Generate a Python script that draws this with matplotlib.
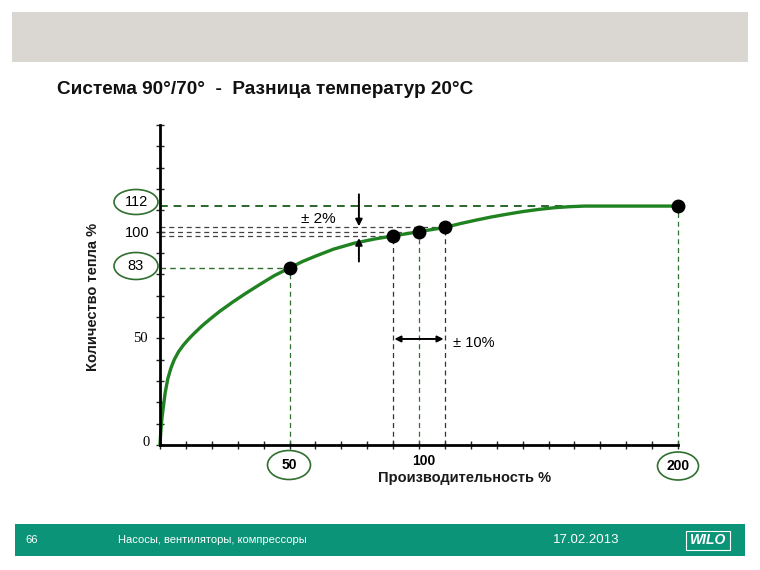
import matplotlib
matplotlib.use("Agg")
import matplotlib.pyplot as plt
from matplotlib.patches import Ellipse, Rectangle
import numpy as np

plt.rcParams['font.family'] = ['Liberation Sans', 'DejaVu Sans']

# ---- data ----
curve_x = [0, 0.3, 0.7, 1.3, 2.0, 3.0, 4.2, 5.5, 7.2, 9.0, 11, 13, 16, 19.3, 23, 28.3, 33,
           38.6, 44, 50, 55, 60, 67, 75, 83, 90, 100, 110, 116, 122, 128, 134, 140,
           146, 152, 158, 164, 170, 180, 190, 200]
curve_y = [0, 6, 12, 18, 24.5, 31, 36, 40, 43.8, 46.8, 49.6, 52.1, 55.6, 59, 62.6, 67.2, 71,
           75.3, 79.3, 83, 86, 88.5, 91.8, 94.6, 96.6, 98, 100, 102, 103.8, 105.4, 106.9,
           108.2, 109.4, 110.4, 111.2, 111.7, 112, 112, 112, 112, 112]
pts_x = [50, 90, 100, 110, 200]
pts_y = [83, 98, 100, 102, 112]
vline_colors = ['#2f6f2f', '#333333', '#2f6f2f', '#333333', '#2f6f2f']
title = "Система 90°/70°  -  Разница температур 20°C"
xlabel = "Производительность %"
ylabel = "Количество тепла %"
footer_page = "66"
footer_text = "Насосы, вентиляторы, компрессоры"
footer_date = "17.02.2013"

W, H = 760, 570
fig = plt.figure(figsize=(W / 100, H / 100), dpi=100)
fig.patch.set_facecolor('white')

def fx(x):
    return x / W

def fy(y):
    return 1 - y / H

# bands
fig.patches.append(Rectangle((fx(12), fy(62)), fx(748) - fx(12), fy(12) - fy(62),
                             transform=fig.transFigure, facecolor='#dad7d3', edgecolor='none'))
fig.patches.append(Rectangle((fx(15), fy(556)), fx(745) - fx(15), fy(524) - fy(556),
                             transform=fig.transFigure, facecolor='#0b9478', edgecolor='none'))

fig.text(fx(57), fy(90), title, fontsize=13.7, fontweight='bold', va='center', ha='left',
         color='#111111')

# axes
ax = fig.add_axes([fx(160), fy(445), fx(678) - fx(160), fy(125) - fy(445)])
ax.set_xlim(0, 200)
ax.set_ylim(0, 150)
for s in ['top', 'right']:
    ax.spines[s].set_visible(False)
for s in ['left', 'bottom']:
    ax.spines[s].set_linewidth(2)
    ax.spines[s].set_color('black')
ax.set_xticks(np.arange(0, 201, 10))
ax.set_yticks(np.arange(0, 151, 10))
ax.set_xticklabels([])
ax.set_yticklabels([])
ax.tick_params(direction='inout', length=6, width=1, color='#222222')
ax.patch.set_alpha(0)

# dashed guide lines
ax.plot([0, pts_x[4]], [pts_y[4]] * 2, ls=(0, (4, 3)), color='#2a662a', lw=1.4, clip_on=False)
ax.plot([0, pts_x[0]], [pts_y[0]] * 2, ls=(0, (4, 3)), color='#2f6f2f', lw=1.0, clip_on=False)
for i in (1, 2, 3):
    ax.plot([0, pts_x[i]], [pts_y[i]] * 2, ls=(0, (4, 3)), color='#444444', lw=0.9, clip_on=False)
for xv, yv, c in zip(pts_x, pts_y, vline_colors):
    ax.plot([xv, xv], [0, yv], ls=(0, (4, 3)), color=c, lw=0.9, clip_on=False)

# curve and points
ax.plot(curve_x, curve_y, color='#208220', lw=2.4, solid_capstyle='round',
        solid_joinstyle='round', clip_on=False)
ax.plot(pts_x, pts_y, 'o', color='black', ms=9, clip_on=False, zorder=5)

# arrows
ap = dict(arrowstyle='-|>', color='black', lw=1.4, mutation_scale=10, shrinkA=0, shrinkB=0)
ax.annotate('', xy=(76.8, 102.5), xytext=(76.8, 117.5), arrowprops=ap)
ax.annotate('', xy=(76.8, 97), xytext=(76.8, 86), arrowprops=ap)
ap2 = dict(arrowstyle='<|-|>', color='black', lw=1.4, mutation_scale=9, shrinkA=0, shrinkB=0)
ax.annotate('', xy=(90.5, 49.7), xytext=(109.5, 49.7), arrowprops=ap2)
ax.text(61, 106, '± 2%', fontsize=11, ha='center', va='center')
ax.text(113, 48, '± 10%', fontsize=10.5, ha='left', va='center')

# tick labels (manual)
fig.text(fx(150), fy(233), '100', fontsize=10.5, ha='right', va='center')
fig.text(fx(148), fy(339), '50', fontsize=10.5, ha='right', va='center',
         family=['Liberation Serif', 'DejaVu Serif'])
fig.text(fx(150), fy(443), '0', fontsize=10.5, ha='right', va='center',
         family=['Liberation Serif', 'DejaVu Serif'])
fig.text(fx(136), fy(202), '112', fontsize=10.5, ha='center', va='center')
fig.text(fx(136), fy(266), '83', fontsize=10.5, ha='center', va='center')
fig.text(fx(289), fy(465), '50', fontsize=10, ha='center', va='center', fontweight='bold')
fig.text(fx(424), fy(461), '100', fontsize=10, ha='center', va='center', fontweight='bold')
fig.text(fx(678), fy(466), '200', fontsize=10, ha='center', va='center', fontweight='bold')
fig.text(fx(465), fy(478), xlabel, fontsize=10.5, ha='center', va='center', fontweight='bold',
         color='#1a1a1a')
fig.text(fx(93), fy(297), ylabel, fontsize=10.5, ha='center', va='center', rotation=90,
         fontweight='bold', color='#1a1a1a')

for (cx, cy, w, h) in [(136, 202, 44, 25), (136, 266, 44, 27), (289, 465, 43, 29), (678, 466, 41, 28)]:
    fig.patches.append(Ellipse((fx(cx), fy(cy)), w / W, h / H, transform=fig.transFigure,
                               facecolor='none', edgecolor='#2f6f2f', lw=1.2))

# footer
fig.text(fx(32), fy(540), footer_page, fontsize=8, color='white', ha='center', va='center')
fig.text(fx(118), fy(540), footer_text, fontsize=8, color='white', ha='left', va='center')
fig.text(fx(586), fy(540), footer_date, fontsize=9.5, color='white', ha='center', va='center')
fig.patches.append(Rectangle((fx(686), fy(550)), fx(730) - fx(686), fy(531) - fy(550),
                             transform=fig.transFigure, facecolor='none', edgecolor='white', lw=0.8))
fig.text(fx(708), fy(540.5), 'WILO', fontsize=10, color='white', ha='center', va='center',
         fontweight='bold', style='italic')

fig.savefig('out.png', dpi=100)
